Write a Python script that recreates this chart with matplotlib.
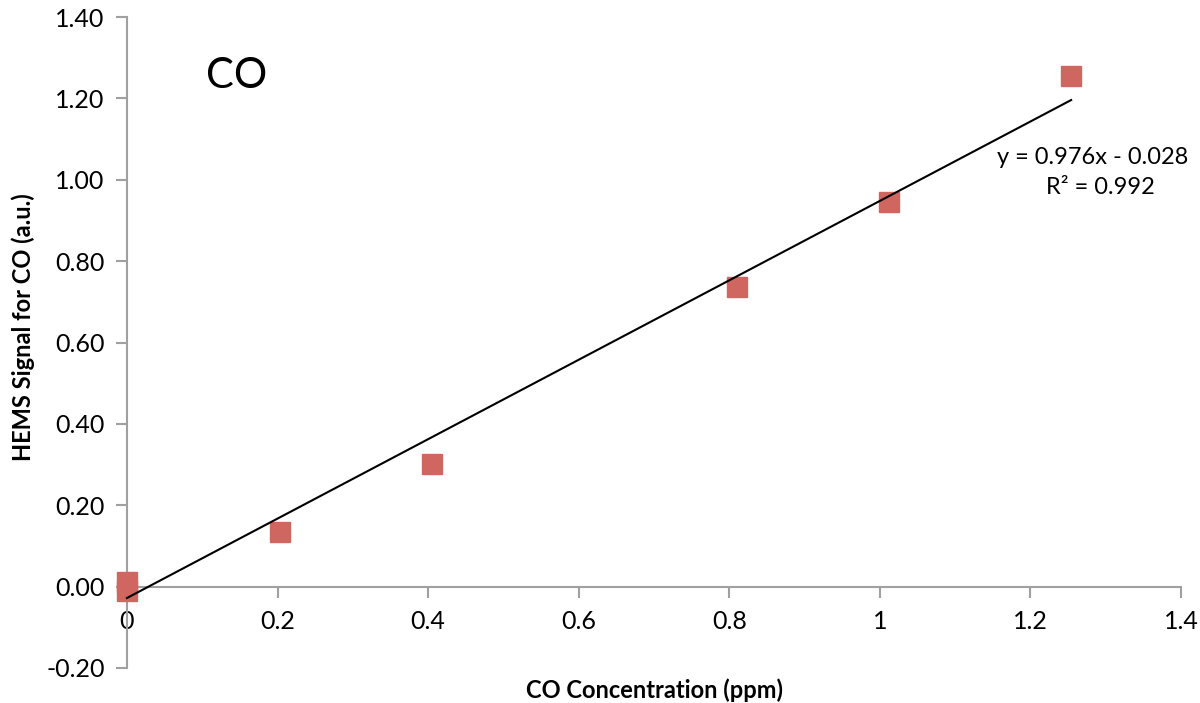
import numpy as np
import matplotlib.pyplot as plt

# Datos
conc_ppm = [0.0, 0.0, 0.203, 0.405, 0.810, 1.012, 1.254]
signal = [0.011, -0.010, 0.135, 0.302, 0.737, 0.946, 1.256]
slope = 0.976
intercept = -0.028
r2 = 0.992

plt.rcParams['font.family'] = ['Lato', 'DejaVu Sans']

fig = plt.figure(figsize=(12, 7.03), dpi=100)
ax = fig.add_axes([0.1058, 0.0498, 0.8784, 0.926])

ax.plot(conc_ppm, signal, 's', color='#CF6660', markersize=15, zorder=3,
        clip_on=False)

# Linea de tendencia
xx = np.array([0.0, max(conc_ppm)])
ax.plot(xx, slope * xx + intercept, color='black', lw=1.5, zorder=4,
        clip_on=False)

ax.set_xlim(0, 1.4)
ax.set_ylim(-0.2, 1.4)
ax.set_xticks(np.arange(0, 1.41, 0.2))
ax.set_xticklabels(['0', '0.2', '0.4', '0.6', '0.8', '1', '1.2', '1.4'])
ax.set_yticks(np.arange(-0.2, 1.41, 0.2))
ax.set_yticklabels(['%.2f' % v for v in np.arange(-0.2, 1.41, 0.2)])

for s in ['top', 'right']:
    ax.spines[s].set_visible(False)
ax.spines['bottom'].set_position(('data', 0))
for s in ['left', 'bottom']:
    ax.spines[s].set_color('#A0A0A0')
    ax.spines[s].set_linewidth(1.5)
ax.tick_params(axis='both', colors='#A0A0A0', length=8, width=1.5,
               labelsize=18, labelcolor='black')
ax.tick_params(axis='x', pad=9)
ax.tick_params(axis='y', pad=8)

fig.text(0.545, 0.018, 'CO Concentration (ppm)', fontsize=17,
         fontweight='bold', ha='center', va='center')
fig.text(0.019, 0.535, 'HEMS Signal for CO (a.u.)', fontsize=17,
         fontweight='bold', ha='center', va='center', rotation=90)

ax.text(0.145, 1.255, 'CO', fontsize=30, va='center', ha='center')
ax.text(1.41, 1.055, 'y = 0.976x - 0.028', fontsize=17, ha='right', va='center')
ax.text(1.365, 0.98, 'R² = %.3f' % r2, fontsize=17, ha='right', va='center')

fig.savefig('out.png', dpi=100)
